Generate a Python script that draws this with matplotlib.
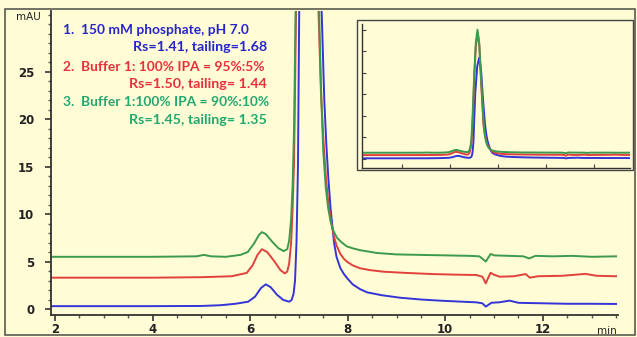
import matplotlib.pyplot as plt
from matplotlib.patches import Rectangle
from matplotlib.ticker import MultipleLocator

# chromatogram traces (time in min, signal in mAU)
blue_x = [1.92, 3.0, 4.0, 5.0, 5.4, 5.7, 5.96, 6.1, 6.22, 6.32, 6.42, 6.55, 6.68, 6.80, 6.85, 6.89, 6.92,
          6.95, 6.98, 7.006, 7.06, 7.14, 7.22, 7.30, 7.38, 7.465, 7.52, 7.56, 7.60, 7.65, 7.70, 7.72,
          7.77, 7.85, 7.92, 7.98, 8.1, 8.25, 8.4, 8.7, 9.07, 9.5, 9.89, 10.3, 10.64, 10.76, 10.83,
          10.9, 10.95, 11.1, 11.32, 11.5, 12.0, 12.5, 13.0, 13.5]
blue_y = [0.3, 0.3, 0.3, 0.32, 0.4, 0.55, 0.77, 1.3, 2.2, 2.6, 2.3, 1.5, 0.95, 0.77, 0.95, 1.6, 3.0,
          7.0, 15, 31.5, 62, 86, 94, 82, 55, 31.5, 22, 17.5, 14, 10.5, 8.0, 7.0,
          5.5, 4.3, 3.7, 3.3, 2.6, 2.1, 1.75, 1.45, 1.19, 1.0, 0.88, 0.78, 0.7, 0.6, 0.25,
          0.5, 0.66, 0.7, 0.88, 0.65, 0.6, 0.55, 0.55, 0.53]

red_x = [1.92, 3.0, 4.0, 5.0, 5.62, 5.93, 6.05, 6.15, 6.24, 6.35, 6.5, 6.62, 6.71, 6.76, 6.80, 6.84, 6.87,
         6.90, 6.93, 6.96, 7.02, 7.08, 7.16, 7.23, 7.30, 7.36, 7.40, 7.45, 7.50, 7.55, 7.60, 7.66, 7.72,
         7.77, 7.85, 7.92, 7.98, 8.1, 8.25, 8.45, 8.73, 9.2, 9.75, 10.2, 10.64, 10.76, 10.83, 10.88,
         10.93, 11.0, 11.12, 11.4, 11.65, 11.73, 11.9, 12.4, 12.87, 13.1, 13.5]
red_y = [3.3, 3.3, 3.3, 3.35, 3.45, 3.8, 4.6, 5.7, 6.3, 6.0, 5.0, 4.1, 3.75, 3.95, 4.8, 7.0, 10.5,
         15.5, 27, 40, 78, 104, 117, 105, 72, 47, 31.5, 23, 18, 14, 11.3, 9.2, 7.6,
         6.7, 5.8, 5.3, 5.0, 4.6, 4.3, 4.1, 3.93, 3.8, 3.68, 3.62, 3.58, 3.4, 2.7, 3.3,
         3.82, 3.6, 3.4, 3.45, 3.68, 3.3, 3.45, 3.5, 3.7, 3.5, 3.45]

green_x = [1.92, 3.0, 4.0, 4.9, 5.05, 5.2, 5.5, 5.8, 5.95, 6.08, 6.18, 6.24, 6.32, 6.45, 6.58, 6.69, 6.76,
           6.80, 6.84, 6.87, 6.90, 6.93, 7.00, 7.08, 7.15, 7.22, 7.30, 7.36, 7.42, 7.46, 7.50, 7.55,
           7.60, 7.65, 7.70, 7.78, 7.88, 7.98, 8.1, 8.25, 8.6, 9.0, 9.5, 10.0, 10.5, 10.7, 10.83,
           10.93, 11.0, 11.3, 11.6, 11.72, 11.85, 12.2, 12.6, 13.0, 13.5]
green_y = [5.5, 5.5, 5.5, 5.55, 5.7, 5.55, 5.5, 5.7, 6.0, 6.9, 7.8, 8.1, 7.9, 7.1, 6.4, 6.1, 6.3,
           7.2, 9.5, 13, 19, 31, 70, 108, 120, 108, 75, 50, 30, 22, 16.5, 12.8,
           10.6, 9.2, 8.3, 7.5, 7.0, 6.6, 6.4, 6.2, 5.9, 5.75, 5.7, 5.65, 5.6, 5.55, 5.0,
           5.8, 5.65, 5.6, 5.55, 5.33, 5.6, 5.55, 5.6, 5.5, 5.55]

legend_lines = ['1.  150 mM phosphate, pH 7.0', 'Rs=1.41, tailing=1.68',
                '2.  Buffer 1: 100% IPA = 95%:5%', 'Rs=1.50, tailing= 1.44',
                '3.  Buffer 1:100% IPA = 90%:10%', 'Rs=1.45, tailing= 1.35']

x_ticks = [2, 4, 6, 8, 10, 12]
y_ticks = [0, 5, 10, 15, 20, 25]

BG = '#fffcd6'
C_BLUE, C_RED, C_GREEN = '#3434d8', '#e2403c', '#3c9a4c'
T_BLUE, T_RED, T_GREEN = '#2626cc', '#e8303a', '#22a870'

fig = plt.figure(figsize=(6.37, 3.37), dpi=100, facecolor=BG)

# frame around the instrument screenshot
fig.patches.append(Rectangle((5/637, 2/337), 630/637, 326/337, transform=fig.transFigure,
                             fill=False, edgecolor='#5a5a50', lw=1.2))

ax = fig.add_axes([51/637, 1 - 314.5/337, 567/637, 303.5/337])
ax.set_facecolor(BG)
ax.plot(blue_x, blue_y, color=C_BLUE, lw=1.4)
ax.plot(red_x, red_y, color=C_RED, lw=1.4)
ax.plot(green_x, green_y, color=C_GREEN, lw=1.4)
ax.set_xlim(1.918, 13.54)
ax.set_ylim(-0.58, 31.4)

for s in ['top', 'right']:
    ax.spines[s].set_visible(False)
for s in ['left', 'bottom']:
    ax.spines[s].set_color('#333333')
    ax.spines[s].set_linewidth(1.3)

ax.set_xticks(x_ticks)
ax.set_yticks(y_ticks)
ax.xaxis.set_minor_locator(MultipleLocator(0.5))
ax.yaxis.set_minor_locator(MultipleLocator(1))
ax.tick_params(which='major', length=4, width=1.2, color='#333333', labelsize=8.5,
               labelcolor='#222222', pad=2)
ax.tick_params(which='minor', length=2, width=1, color='#555555')
for lbl in ax.get_xticklabels() + ax.get_yticklabels():
    lbl.set_fontweight('bold')
ax.tick_params(axis='y', pad=8)

ax.text(-0.018, 30.8, 'mAU', transform=ax.get_yaxis_transform(), ha='right', va='center',
        fontsize=7.5, color='#222222')
ax.text(0.998, -0.055, 'min', transform=ax.transAxes, ha='right', va='center',
        fontsize=7.5, color='#222222')

# legend text block
text_colors = [T_BLUE, T_BLUE, T_RED, T_RED, T_GREEN, T_GREEN]
text_y = [30, 47, 67, 84, 102, 120]
for i, line in enumerate(legend_lines):
    if i % 2 == 0:
        fig.text(63/637, 1 - text_y[i]/337, line, ha='left', va='center', fontsize=9.9,
                 fontweight='bold', family='Lato', color=text_colors[i])
    else:
        fig.text(267/637, 1 - text_y[i]/337, line, ha='right', va='center', fontsize=10.3,
                 fontweight='bold', family='Lato', color=text_colors[i])

# inset with the whole peak
fig.patches.append(Rectangle((357/637, 1 - 170/337), 276/637, 150/337, transform=fig.transFigure,
                             facecolor=BG, edgecolor='#444444', lw=1.0, zorder=3))
ins = fig.add_axes([361.7/637, 1 - 168.3/337, 268.3/637, 144/337], zorder=4)
ins.set_facecolor(BG)
ins.plot(blue_x, blue_y, color=C_BLUE, lw=1.4)
ins.plot(red_x, red_y, color=C_RED, lw=1.4)
ins.plot(green_x, green_y, color=C_GREEN, lw=1.4)
ins.set_xlim(2.33, 13.5)
ins.set_ylim(-9, 125)
ins.set_xticks([4, 6, 8, 10, 12])
ins.set_yticks([0, 20, 40, 60, 80, 100, 120])
ins.tick_params(direction='in', length=3, width=0.8, color='#444444',
                labelbottom=False, labelleft=False)
for s in ['top', 'right']:
    ins.spines[s].set_visible(False)
for s in ['left', 'bottom']:
    ins.spines[s].set_color('#333333')
    ins.spines[s].set_linewidth(1.0)

fig.savefig('out.png', dpi=100, facecolor=BG)
